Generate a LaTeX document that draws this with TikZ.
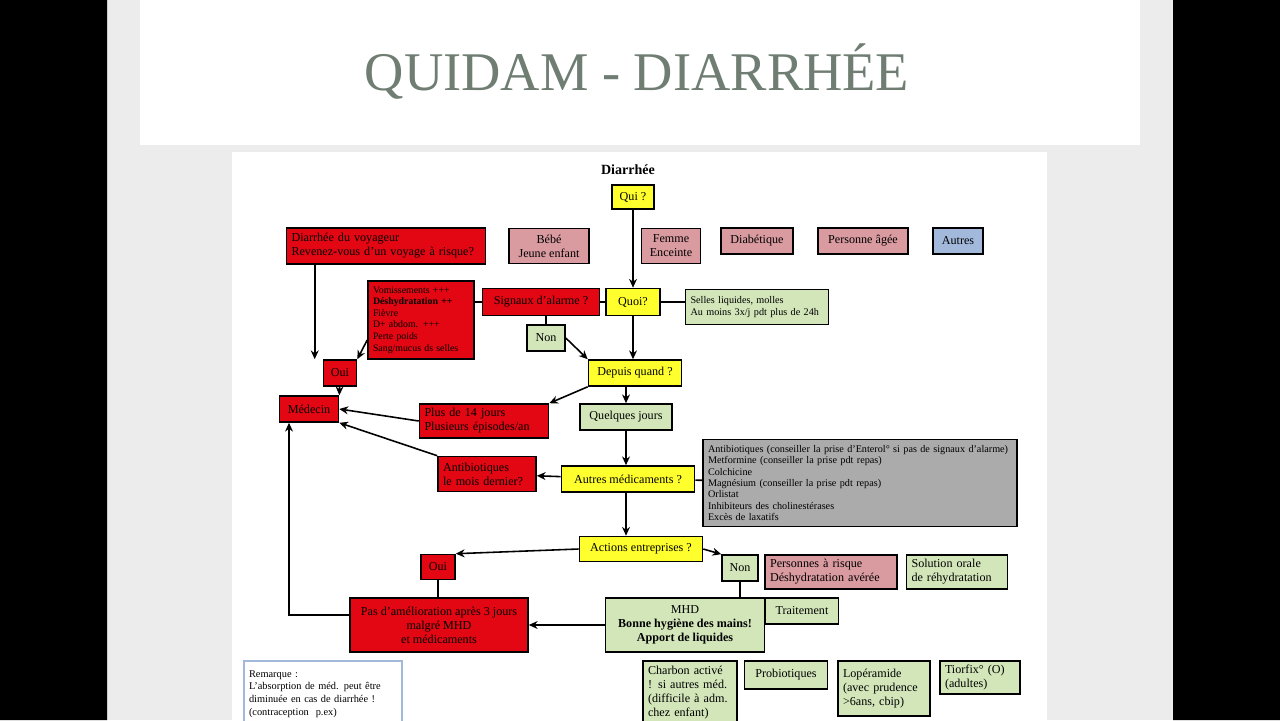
\documentclass[tikz,border=0pt]{standalone}
\usepackage{fontspec}
\setmainfont{Liberation Serif}
\usetikzlibrary{arrows.meta}
\usetikzlibrary{positioning}
\definecolor{rouge}{HTML}{E30613}
\definecolor{rose}{HTML}{D99AA0}
\definecolor{jaune}{HTML}{FFFF2E}
\definecolor{vert}{HTML}{D3E6BA}
\definecolor{bleu}{HTML}{A3B9DB}
\definecolor{gris}{HTML}{ABABAB}
\definecolor{titre}{HTML}{6F7D72}
\begin{document}
\begin{tikzpicture}[x=0.02cm, y=-0.02cm]
\tikzstyle{sz}=[minimum width=#1*0.02cm]
\tikzstyle{ht}=[minimum height=#1*0.02cm]
\tikzstyle{lt}=[align=left, text width=#1*0.02cm, inner xsep=0.1cm]
\tikzstyle{bx}=[draw, line width=0.9pt, inner sep=1pt, font=\fontsize{6.9}{8}\selectfont, align=center];
\tikzstyle{ar}=[-{Stealth[length=5pt,width=4.5pt]}, line width=0.9pt];
\tikzstyle{li}=[line width=0.9pt];
% fond
\useasboundingbox (0,0) rectangle (1280,720);
\fill[gray!15] (0,0) rectangle (1280,720);
\fill[black] (0,0) rectangle (107,720) (1173,0) rectangle (1280,720);
\fill[white] (140,0) rectangle (1140,145);
\fill[white] (232,152) rectangle (1047,720);
\node[text=titre, font=\fontsize{31}{34}\selectfont] (titre) at (637,72) {QUIDAM - DIARRHÉE};
\node[font=\bfseries\fontsize{8}{9}\selectfont] (diar) at (628,170) {Diarrhée};
% noeuds
\node[bx, fill=jaune, sz=42, ht=24] (qui) at (633,197) {Qui ?};
\node[bx, fill=rouge, sz=199, ht=36, lt=189] (voy) at (386,246) {Diarrhée du voyageur\\Revenez-vous d'un voyage à risque?};
\node[bx, fill=rose, sz=80, ht=35] (bebe) at (549,246) {Bébé\\Jeune enfant};
\node[bx, fill=rose, sz=59, ht=35] (femme) at (671,246) {Femme\\Enceinte};
\node[bx, fill=rose, sz=72, ht=26] (diab) at (757,241) {Diabétique};
\node[bx, fill=rose, sz=90, ht=26] (agee) at (863,241) {Personne âgée};
\node[bx, fill=bleu, sz=50, ht=26] (autres) at (958,241) {Autres};
\node[bx, fill=rouge, sz=106, ht=78, lt=96, font=\fontsize{5.6}{6.6}\selectfont] (sympt) at (421,320) {Vomissements +++\\\textbf{Déshydratation ++}\\Fièvre\\D+ abdom. +++\\Perte poids\\Sang/mucus ds selles};
\node[bx, fill=rouge, sz=117, ht=27] (signaux) at (541,302) {Signaux d'alarme ?};
\node[bx, fill=jaune, sz=54, ht=27] (quoi) at (633,302) {Quoi?};
\node[bx, fill=vert, sz=143, ht=35, lt=133, font=\fontsize{5.8}{7}\selectfont] (selles) at (757,307) {Selles liquides, molles\\Au moins 3x/j pdt plus de 24h};
\node[bx, fill=vert, sz=38, ht=26] (non) at (546,338) {Non};
\node[bx, fill=rouge, sz=33, ht=26] (oui) at (340,373) {Oui};
\node[bx, fill=jaune, sz=93, ht=26] (depuis) at (635,373) {Depuis quand ?};
\node[bx, fill=rouge, sz=59, ht=26] (medecin) at (309,409) {Médecin};
\node[bx, fill=rouge, sz=129, ht=34, lt=119] (plus) at (484,421) {Plus de 14 jours\\Plusieurs épisodes/an};
\node[bx, fill=vert, sz=92, ht=26] (quelques) at (626,417) {Quelques jours};
\node[bx, fill=rouge, sz=98, ht=35, lt=88] (antib) at (487,474) {Antibiotiques\\le mois dernier?};
\node[bx, fill=jaune, sz=133, ht=26] (automed) at (628,479) {Autres médicaments ?};
\node[bx, fill=gris, sz=314, ht=87, lt=304, font=\fontsize{5.8}{6.5}\selectfont] (medic) at (860,483) {Antibiotiques (conseiller la prise d'Enterol° si pas de signaux d'alarme)\\Metformine (conseiller la prise pdt repas)\\Colchicine\\Magnésium (conseiller la prise pdt repas)\\Orlistat\\Inhibiteurs des cholinestérases\\Excès de laxatifs};
\node[bx, fill=jaune, sz=123, ht=25] (actions) at (641,549) {Actions entreprises ?};
\node[bx, fill=rouge, sz=34, ht=25] (oui2) at (438,567) {Oui};
\node[bx, fill=vert, sz=36, ht=26] (non2) at (740,568) {Non};
\node[bx, fill=rose, sz=132, ht=34, lt=122] (risque) at (831,572) {Personnes à risque\\Déshydratation avérée};
\node[bx, fill=vert, sz=101, ht=34, lt=91] (sro) at (957,572) {Solution orale\\de réhydratation};
\node[bx, fill=rouge, sz=178, ht=54] (pasamel) at (439,625) {Pas d'amélioration après 3 jours\\malgré MHD\\et médicaments};
\node[bx, fill=vert, sz=159, ht=54] (mhd) at (685,625) {MHD\\\textbf{Bonne hygiène des mains!}\\\textbf{Apport de liquides}};
\node[bx, fill=vert, sz=73, ht=26] (trait) at (802,611) {Traitement};
\node[bx, draw=bleu, fill=white, sz=158, ht=66, lt=148, anchor=north, font=\fontsize{5.9}{7.2}\selectfont] (rem) at (323,660) {Remarque :\\L'absorption de méd. peut être\\diminuée en cas de diarrhée !\\(contraception\ \ p.ex)\\ };
\node[bx, fill=vert, sz=94, ht=64, lt=84, anchor=north] (charbon) at (690,660) {Charbon activé\\! si autres méd.\\(difficile à adm.\\chez enfant)};
\node[bx, fill=vert, sz=83, ht=28, anchor=north] (probio) at (786,660) {Probiotiques};
\node[bx, fill=vert, sz=92, ht=55, lt=82, anchor=north] (lope) at (884,660) {Lopéramide\\(avec prudence\\>6ans, cbip)};
\node[bx, fill=vert, sz=80, ht=33, lt=70, anchor=north] (tior) at (980,660) {Tiorfix° (O)\\(adultes)};
% liens
\draw[ar] (qui) -- (quoi);
\draw[ar] (voy.south -| oui.north west) ++(-8,0) coordinate (v1) -- (v1 |- oui.north);
\draw[ar] (sympt.west) ++(0,20) coordinate (s1) -- (oui.north east);
\draw[li] (sympt.east |- signaux) -- (signaux) -- (quoi) -- (selles.west |- quoi);
\draw[li] (signaux.south -| non) -- (non);
\draw[ar] (non.east) -- (depuis.north west);
\draw[ar] (quoi) -- (quoi |- depuis.north);
\draw[ar] (oui) -- (medecin.north east);
\draw[ar] (depuis.south west) -- (plus.north east);
\draw[ar] (depuis.south -| quelques) -- (quelques);
\draw[ar] (plus.west) -- (medecin.east);
\draw[ar] (antib.north west) -- (medecin.south east);
\draw[ar] (quelques) -- (automed.north -| quelques);
\draw[ar] (automed) -- (antib);
\draw[li] (automed) -- (medic);
\draw[ar] (automed.south -| actions.north) ++(-15,0) coordinate (a1) -- (a1 |- actions.north);
\draw[ar] (actions.west) -- (oui2.north east);
\draw[ar] (actions.east) -- (non2.north west);
\draw[li] (oui2) -- (oui2 |- pasamel.north);
\draw[ar] (pasamel.west) ++(0,-10) coordinate (p1) -| (medecin.south -| 289,0);
\draw[li] (non2) -- (non2 |- mhd.north);
\draw[ar] (mhd) -- (pasamel);
\end{tikzpicture}
\end{document}
